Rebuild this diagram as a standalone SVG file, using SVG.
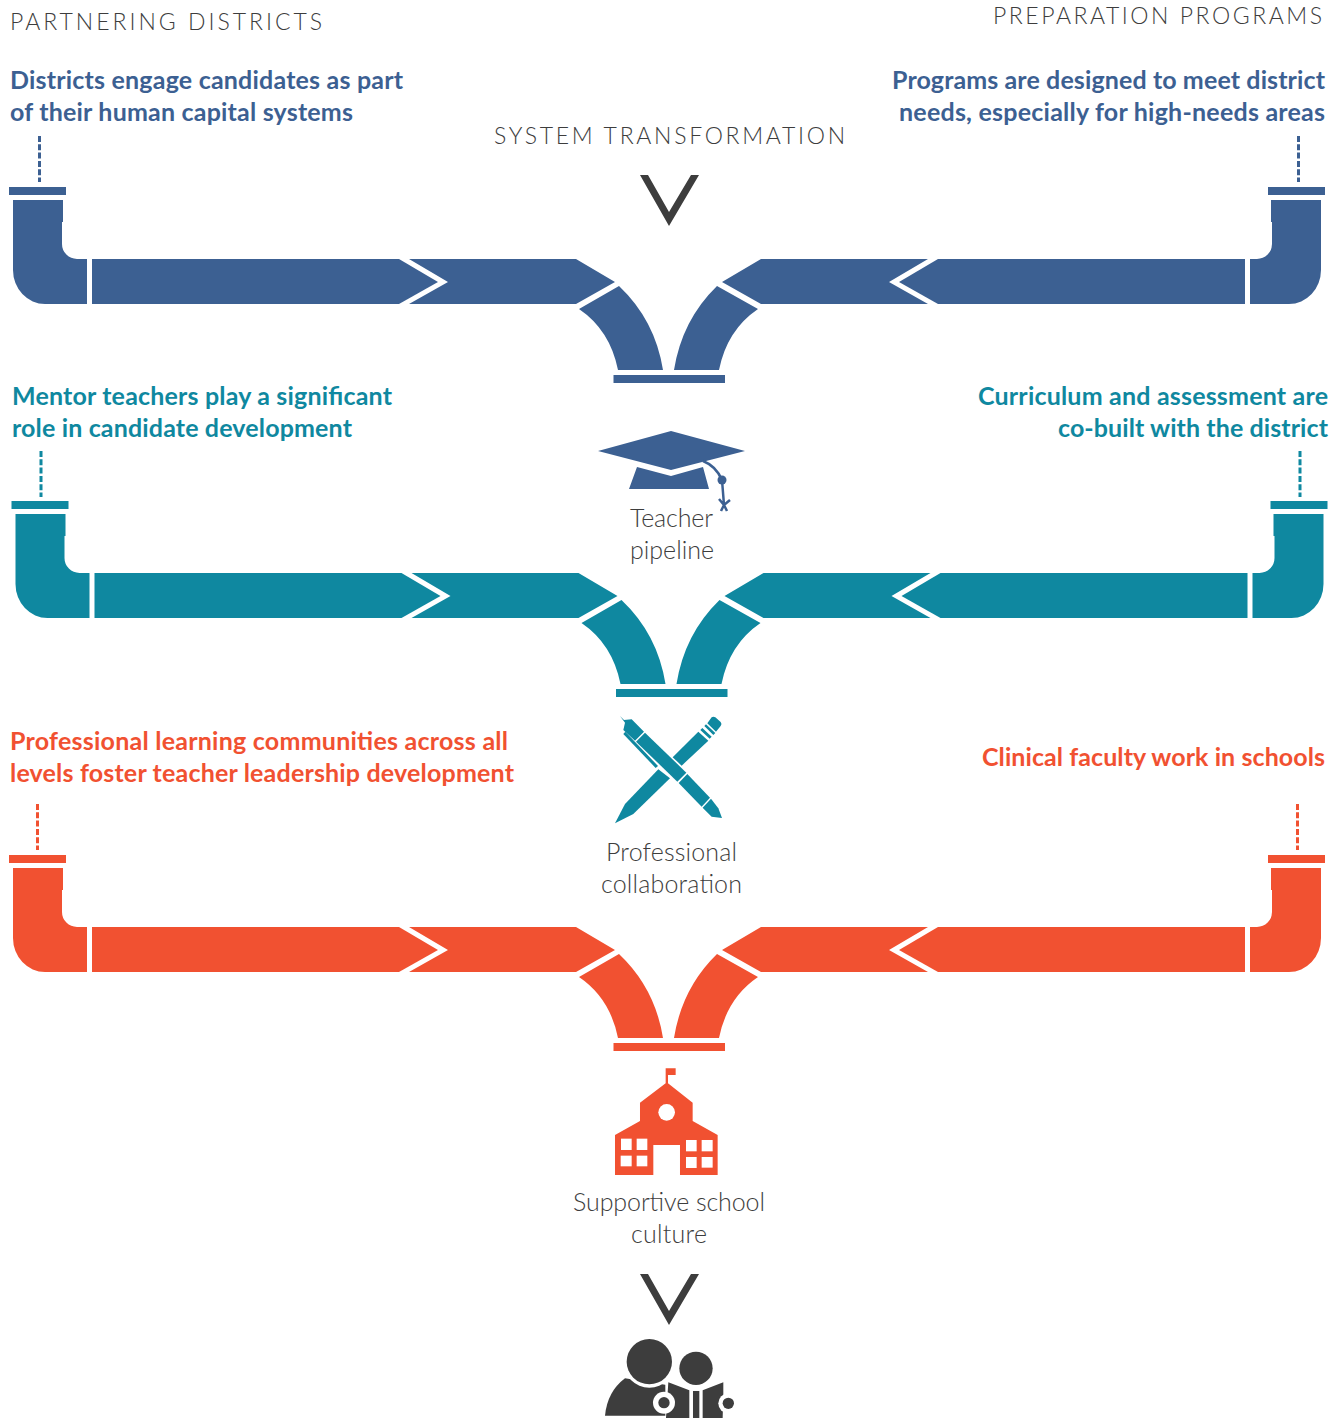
<svg xmlns="http://www.w3.org/2000/svg" width="1341" height="1418" viewBox="0 0 1341 1418">
<style>
text{font-family:"Lato","Open Sans","Liberation Sans",sans-serif}
.h{font-size:23px;font-weight:300;fill:#3d3d3d}
.b{font-size:25px;font-weight:700}
.l{font-size:25px;font-weight:300;fill:#3d3d3d}
.blue{fill:#3c6092}.teal{fill:#0f88a0}.red{fill:#f15131}.dark{fill:#3d3d3d}
.d{stroke-width:3;stroke-dasharray:6 2.3;fill:none}
</style>
<defs>
<g id="pipe">
<rect x="9" y="187" width="57" height="8"/>
<path d="M13 200H63V222H62V244A15 15 0 0 0 77 259H87V304H45A32 34 0 0 1 13 270Z"/>
<path d="M92 259H399L438 282L399 304H92Z"/>
<path d="M409 259H576L615 282L576 304H409L448 282Z"/>
<path d="M619 286Q655 320 663 370H618Q610 330 579 309Z"/>
<rect x="613.500" y="375" width="111.500" height="8"/>
<path d="M717 286Q682 320 674 370H719Q727 330 758 309Z"/>
<path d="M722 282L761 259H928L889 282L928 304H761Z"/>
<path d="M938 259H1245V304H938L899 282Z"/>
<path d="M1271 200H1321V270A32 34 0 0 1 1289 304H1250V259H1257A15 15 0 0 0 1272 244V222H1271Z"/>
<rect x="1268" y="187" width="57" height="8"/>
</g>
<path id="vee" d="M640 175H648L669 212L691 175H699L669 226Z"/>
</defs>

<g id="connectors">
<use href="#pipe" class="blue"/>
<use href="#pipe" class="teal" transform="translate(2.500 314)"/>
<use href="#pipe" class="red" transform="translate(0 668)"/>
<path class="d" stroke="#3c6092" d="M39.500 136V182M1298.500 136V182"/>
<path class="d" stroke="#0f88a0" d="M41 451V497M1300 451V497"/>
<path class="d" stroke="#f15131" d="M37.500 804V850M1297.500 804V850"/>
<use href="#vee" class="dark"/>
<use href="#vee" class="dark" transform="translate(0 1099)"/>
</g>

<g id="header-partnering"><text class="h" x="10" y="30" textLength="312">PARTNERING DISTRICTS</text></g>
<g id="header-preparation"><text class="h" x="993" y="24" textLength="329">PREPARATION PROGRAMS</text></g>
<g id="header-system"><text class="h" x="494" y="144" textLength="351">SYSTEM TRANSFORMATION</text></g>

<g id="note-districts">
<text class="b blue" x="10" y="89" textLength="393">Districts engage candidates as part</text>
<text class="b blue" x="10" y="121" textLength="343">of their human capital systems</text>
</g>
<g id="note-programs">
<text class="b blue" x="892" y="89" textLength="433">Programs are designed to meet district</text>
<text class="b blue" x="899" y="121" textLength="426">needs, especially for high-needs areas</text>
</g>
<g id="note-mentor">
<text class="b teal" x="12" y="405" textLength="380">Mentor teachers play a significant</text>
<text class="b teal" x="12" y="437" textLength="340">role in candidate development</text>
</g>
<g id="note-curriculum">
<text class="b teal" x="978" y="405" textLength="350">Curriculum and assessment are</text>
<text class="b teal" x="1058" y="437" textLength="270">co-built with the district</text>
</g>
<g id="note-plc">
<text class="b red" x="10" y="750" textLength="498">Professional learning communities across all</text>
<text class="b red" x="10" y="782" textLength="504">levels foster teacher leadership development</text>
</g>
<g id="note-clinical"><text class="b red" x="982" y="766" textLength="343">Clinical faculty work in schools</text></g>

<g id="node-teacher-pipeline">
<path class="blue" d="M598 451L671 431L745 451L671 470ZM637 467L671 476L703 467L709 489H629Z"/>
<path d="M703 461Q716 466 722 480L724 505M719 499L724 505L730 500M724 505L721 511M724 505L727 511" fill="none" stroke="#3c6092" stroke-width="2.500"/>
<circle class="blue" cx="722" cy="480" r="4.500"/>
<text class="l" x="630" y="527" textLength="83">Teacher</text>
<text class="l" x="630" y="559" textLength="84">pipeline</text>
</g>

<g id="node-professional-collaboration">
<g class="teal" transform="translate(590 700) scale(.3333)">
<path d="M75 370L105 312L205 208L240 235L130 342Z"/>
<path d="M248 172L325 95L355 122L275 197Z"/>
<path d="M331 90L337 84L365 110L359 116ZM343 78L348 73L376 99L370 105Z"/>
<path d="M352 70L365 52Q370 48 376 52L392 66Q397 72 392 78L378 95Z"/>
<path d="M90 48L102 60L125 58L162 95L135 122L100 90L105 68Z"/>
<path d="M165 98L289 218L262 245L138 125Z"/>
<path d="M100 102L106 95L204 198L197 204Z"/>
<path d="M292 222L360 293L335 320L266 249Z"/>
<path d="M363 296L385 325L396 354L365 350L338 323Z"/>
</g>
<text class="l" x="606" y="861" textLength="131">Professional</text>
<text class="l" x="601" y="893" textLength="141">collaboration</text>
</g>

<g id="node-school-culture">
<g transform="translate(590 1060) scale(.3333)">
<path class="red" d="M225 25H257V45H234V70L308 128V183L383 225V345H270V255H190V345H75V225L150 183V128L227 70V25Z"/>
<g fill="#fff">
<circle cx="230" cy="157" r="25"/>
<rect x="93" y="236" width="32" height="34"/><rect x="140" y="236" width="32" height="34"/>
<rect x="92" y="287" width="33" height="32"/><rect x="140" y="287" width="32" height="32"/>
<rect x="288" y="240" width="32" height="34"/><rect x="335" y="240" width="33" height="34"/>
<rect x="288" y="291" width="32" height="33"/><rect x="335" y="291" width="33" height="32"/>
</g>
</g>
<text class="l" x="573" y="1211" textLength="192">Supportive school</text>
<text class="l" x="631" y="1243" textLength="76">culture</text>
</g>

<g id="node-people">
<g transform="translate(590 1265) scale(.3333)">
<path class="dark" d="M45 452Q52 380 105 340L230 360V452Z"/>
<circle cx="178" cy="290" r="78" fill="#fff"/>
<circle class="dark" cx="178" cy="290" r="68"/>
<path d="M226 345L300 370V459H226Z" fill="#fff"/>
<circle class="dark" cx="318" cy="310" r="50"/>
<path class="dark" d="M235 352L298 376V459H228ZM338 376L400 352V395L398 459H338Z"/>
<rect x="309" y="378" width="19" height="81" class="dark"/>
<circle cx="222" cy="413" r="33" fill="#fff"/>
<circle class="dark" cx="222" cy="413" r="17"/>
<circle cx="415" cy="415" r="30" fill="#fff"/>
<circle class="dark" cx="415" cy="415" r="17"/>
</g>
</g>
</svg>
